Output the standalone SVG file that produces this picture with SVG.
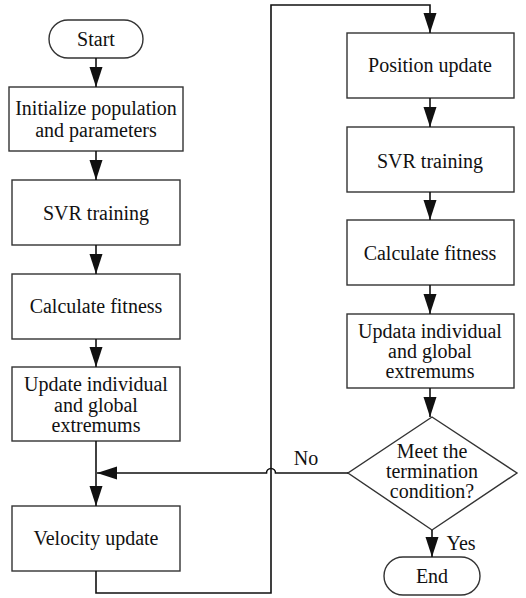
<svg xmlns="http://www.w3.org/2000/svg" width="526" height="598" viewBox="0 0 526 598">
<style>
.box{fill:#fff;stroke:#333;stroke-width:1.4}
.t{font-family:'Liberation Serif','Times New Roman','DejaVu Serif',serif;font-size:20px;fill:#111;text-anchor:middle}
.c{fill:none;stroke:#111;stroke-width:1.6}
</style>
<defs>
<marker id="ah" markerUnits="userSpaceOnUse" markerWidth="20" markerHeight="14" refX="20" refY="7" orient="auto">
<path d="M0,0.5 L20,7 L0,13.5 z" fill="#111"/>
</marker>
</defs>
<rect width="526" height="598" fill="#fff"/>
<g id="start"><rect class="box" x="49" y="20" width="94" height="38" rx="19"/><text class="t" x="96" y="46">Start</text></g>
<g id="init"><rect class="box" x="9" y="87" width="174" height="64"/><text class="t" x="96" y="115">Initialize population</text><text class="t" x="96" y="137">and parameters</text></g>
<g id="svr1"><rect class="box" x="12" y="180" width="168" height="65"/><text class="t" x="96" y="220">SVR training</text></g>
<g id="fit1"><rect class="box" x="12" y="274" width="168" height="65"/><text class="t" x="96" y="313">Calculate fitness</text></g>
<g id="upd1"><rect class="box" x="12" y="367" width="168" height="74"/><text class="t" x="96" y="391">Update individual</text><text class="t" x="96" y="412">and global</text><text class="t" x="96" y="432">extremums</text></g>
<g id="vel"><rect class="box" x="12" y="506" width="168" height="65"/><text class="t" x="96" y="545">Velocity update</text></g>
<g id="pos"><rect class="box" x="347" y="33" width="167" height="65"/><text class="t" x="430" y="72">Position update</text></g>
<g id="svr2"><rect class="box" x="347" y="127" width="167" height="65"/><text class="t" x="430" y="168">SVR training</text></g>
<g id="fit2"><rect class="box" x="347" y="220" width="167" height="65"/><text class="t" x="430" y="260">Calculate fitness</text></g>
<g id="upd2"><rect class="box" x="347" y="314" width="167" height="74"/><text class="t" x="430" y="338">Updata individual</text><text class="t" x="430" y="358">and global</text><text class="t" x="430" y="378">extremums</text></g>
<g id="cond"><polygon class="box" points="432,417 517,473 432,530 348,473"/><text class="t" x="432" y="458">Meet the</text><text class="t" x="432" y="478">termination</text><text class="t" x="432" y="498">condition?</text></g>
<g id="end"><rect class="box" x="384" y="557" width="96" height="38" rx="19"/><text class="t" x="432" y="583">End</text></g>
<g id="connectors">
<path class="c" d="M96,58 V87" marker-end="url(#ah)"/>
<path class="c" d="M96,151 V180" marker-end="url(#ah)"/>
<path class="c" d="M96,245 V274" marker-end="url(#ah)"/>
<path class="c" d="M96,339 V367" marker-end="url(#ah)"/>
<path class="c" d="M96,441 V506" marker-end="url(#ah)"/>
<path class="c" d="M96,571 V593 H271 V5 H430 V33" marker-end="url(#ah)"/>
<path class="c" d="M430,98 V127" marker-end="url(#ah)"/>
<path class="c" d="M430,192 V220" marker-end="url(#ah)"/>
<path class="c" d="M430,285 V314" marker-end="url(#ah)"/>
<path class="c" d="M430,388 V417" marker-end="url(#ah)"/>
<path class="c" d="M348,473 H275.5 A4.5,4.5 0 0 0 266.5,473 H97" marker-end="url(#ah)"/>
<path class="c" d="M432,530 V557" marker-end="url(#ah)"/>
<text class="t" x="306" y="465">No</text>
<text class="t" x="461" y="550">Yes</text>
</g>
</svg>
